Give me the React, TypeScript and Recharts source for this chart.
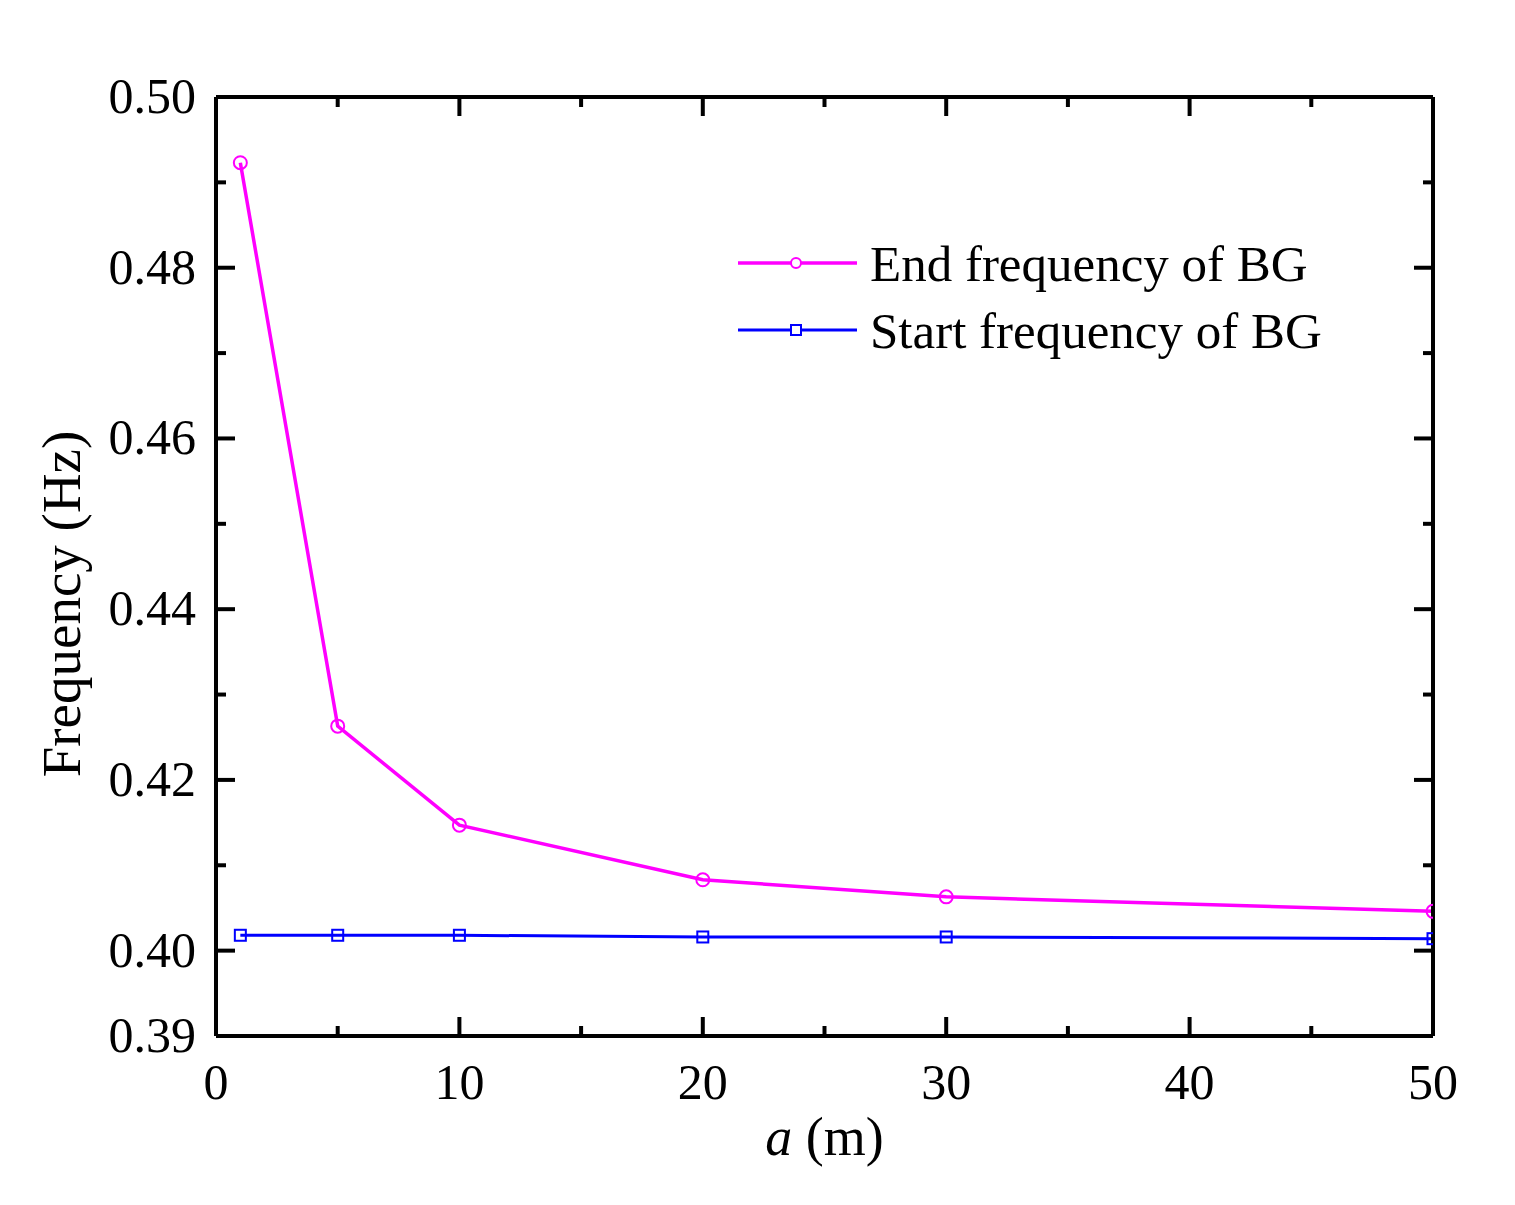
import React from 'react';
import { LineChart, Line, XAxis, YAxis, Legend } from 'recharts';

const xValues = [1, 5, 10, 20, 30, 50];
const endFreq = [0.4923, 0.4263, 0.4147, 0.4083, 0.4063, 0.4046];
const startFreq = [0.4018, 0.4018, 0.4018, 0.4016, 0.4016, 0.4014];
const seriesNames = ['End frequency of BG', 'Start frequency of BG'];

const xTicks = [0, 5, 10, 15, 20, 25, 30, 35, 40, 45, 50];
const xMajor = [0, 10, 20, 30, 40, 50];
const yTicks = [0.39, 0.4, 0.41, 0.42, 0.43, 0.44, 0.45, 0.46, 0.47, 0.48, 0.49, 0.5];
const yMajor = [0.4, 0.42, 0.44, 0.46, 0.48, 0.5];
const yLabels = [0.39, 0.4, 0.42, 0.44, 0.46, 0.48, 0.5];

const FONT = '"Liberation Serif", "Times New Roman", serif';
const MAJOR = 19;
const MINOR = 10;

const data = xValues.map((x, i) => ({ x, end: endFreq[i], start: startFreq[i] }));

const inList = (list: number[], v: number) => list.some((t) => Math.abs(t - v) < 1e-9);

const BottomTick = (props: any) => {
  const { x, y, payload } = props;
  const v = payload.value;
  const major = inList(xMajor, v);
  return (
    <g>
      <line x1={x} x2={x} y1={y} y2={y - (major ? MAJOR : MINOR)} stroke="#000" strokeWidth={4} />
      {major && (
        <text x={x} y={y + 63} textAnchor="middle" fontSize={50} fontFamily={FONT} fill="#000">
          {v}
        </text>
      )}
    </g>
  );
};

const TopTick = (props: any) => {
  const { x, y, payload } = props;
  const major = inList(xMajor, payload.value);
  return <line x1={x} x2={x} y1={y} y2={y + (major ? MAJOR : MINOR)} stroke="#000" strokeWidth={4} />;
};

const LeftTick = (props: any) => {
  const { x, y, payload } = props;
  const v = payload.value;
  const major = inList(yMajor, v);
  const labeled = inList(yLabels, v);
  return (
    <g>
      {v > 0.395 && (
        <line x1={x} x2={x + (major ? MAJOR : MINOR)} y1={y} y2={y} stroke="#000" strokeWidth={4} />
      )}
      {labeled && (
        <text x={x - 20} y={y + 16} textAnchor="end" fontSize={50} fontFamily={FONT} fill="#000">
          {v.toFixed(2)}
        </text>
      )}
    </g>
  );
};

const RightTick = (props: any) => {
  const { x, y, payload } = props;
  const v = payload.value;
  const major = inList(yMajor, v);
  if (v < 0.395) return <g />;
  return <line x1={x} x2={x - (major ? MAJOR : MINOR)} y1={y} y2={y} stroke="#000" strokeWidth={4} />;
};

const SquareDot = (props: any) => {
  const { cx, cy, index } = props;
  if (cx == null || cy == null) return <g key={`sq-${index}`} />;
  return (
    <rect
      key={`sq-${index}`}
      x={cx - 5.5}
      y={cy - 5.5}
      width={11}
      height={11}
      fill="none"
      stroke="#0000FF"
      strokeWidth={2}
    />
  );
};

const LegendContent = () => {
  const rows = [
    { name: seriesNames[0], color: '#FF00FF', shape: 'circle', y: 43, w: 3.5 },
    { name: seriesNames[1], color: '#0000FF', shape: 'square', y: 110, w: 3 },
  ];
  return (
    <svg width={700} height={140} style={{ overflow: 'visible', display: 'block' }}>
      {rows.map((r) => (
        <g key={r.name}>
          <line x1={8} x2={127} y1={r.y} y2={r.y} stroke={r.color} strokeWidth={r.w} />
          {r.shape === 'circle' ? (
            <circle cx={66} cy={r.y} r={5} fill="#fff" stroke={r.color} strokeWidth={2} />
          ) : (
            <rect x={61} y={r.y - 5} width={10} height={10} fill="#fff" stroke={r.color} strokeWidth={2} />
          )}
          <text x={140} y={r.y + 18} fontSize={51} fontFamily={FONT} fill="#000">
            {r.name}
          </text>
        </g>
      ))}
    </svg>
  );
};

export default function App() {
  return (
    <div style={{ width: 1500, height: 1190, background: '#fff' }}>
      <LineChart
        width={1500}
        height={1190}
        data={data}
        margin={{ top: 79, right: 65, bottom: 102, left: 108 }}
      >
        <XAxis
          xAxisId="bottom"
          dataKey="x"
          type="number"
          domain={[0, 50]}
          ticks={xTicks}
          interval={0}
          tickSize={0}
          tickMargin={0}
          tickLine={false}
          axisLine={{ stroke: '#000', strokeWidth: 4 }}
          tick={(p: any) => <BottomTick {...p} />}
          height={60}
          allowDataOverflow
          label={{
            content: () => (
              <text x={816.5} y={1147} textAnchor="middle" fontSize={54} fontFamily={FONT} fill="#000">
                <tspan fontStyle="italic">a</tspan>
                <tspan> (m)</tspan>
              </text>
            ),
          }}
        />
        <XAxis
          xAxisId="top"
          orientation="top"
          dataKey="x"
          type="number"
          domain={[0, 50]}
          ticks={xTicks}
          interval={0}
          tickSize={0}
          tickMargin={0}
          tickLine={false}
          axisLine={{ stroke: '#000', strokeWidth: 4 }}
          tick={(p: any) => <TopTick {...p} />}
          height={10}
          allowDataOverflow
        />
        <YAxis
          yAxisId="left"
          type="number"
          domain={[0.39, 0.5]}
          ticks={yTicks}
          interval={0}
          tickSize={0}
          tickMargin={0}
          tickLine={false}
          axisLine={{ stroke: '#000', strokeWidth: 4 }}
          tick={(p: any) => <LeftTick {...p} />}
          width={100}
          allowDataOverflow
          label={{
            content: () => (
              <text
                x={72}
                y={596}
                transform="rotate(-90, 72, 596)"
                textAnchor="middle"
                fontSize={55}
                fontFamily={FONT}
                fill="#000"
              >
                Frequency (Hz)
              </text>
            ),
          }}
        />
        <YAxis
          yAxisId="right"
          orientation="right"
          type="number"
          domain={[0.39, 0.5]}
          ticks={yTicks}
          interval={0}
          tickSize={0}
          tickMargin={0}
          tickLine={false}
          axisLine={{ stroke: '#000', strokeWidth: 4 }}
          tick={(p: any) => <RightTick {...p} />}
          width={10}
          allowDataOverflow
        />
        <Legend
          content={() => <LegendContent />}
          wrapperStyle={{ position: 'absolute', left: 722, top: 212, width: 0, height: 0, overflow: 'visible' }}
        />
        <Line
          xAxisId="bottom"
          yAxisId="left"
          name={seriesNames[0]}
          dataKey="end"
          stroke="#FF00FF"
          strokeWidth={3.5}
          dot={{ r: 6.5, stroke: '#FF00FF', strokeWidth: 2, fill: 'none' }}
          isAnimationActive={false}
        />
        <Line
          xAxisId="bottom"
          yAxisId="left"
          name={seriesNames[1]}
          dataKey="start"
          stroke="#0000FF"
          strokeWidth={3}
          dot={(p: any) => <SquareDot {...p} />}
          isAnimationActive={false}
        />
      </LineChart>
    </div>
  );
}
